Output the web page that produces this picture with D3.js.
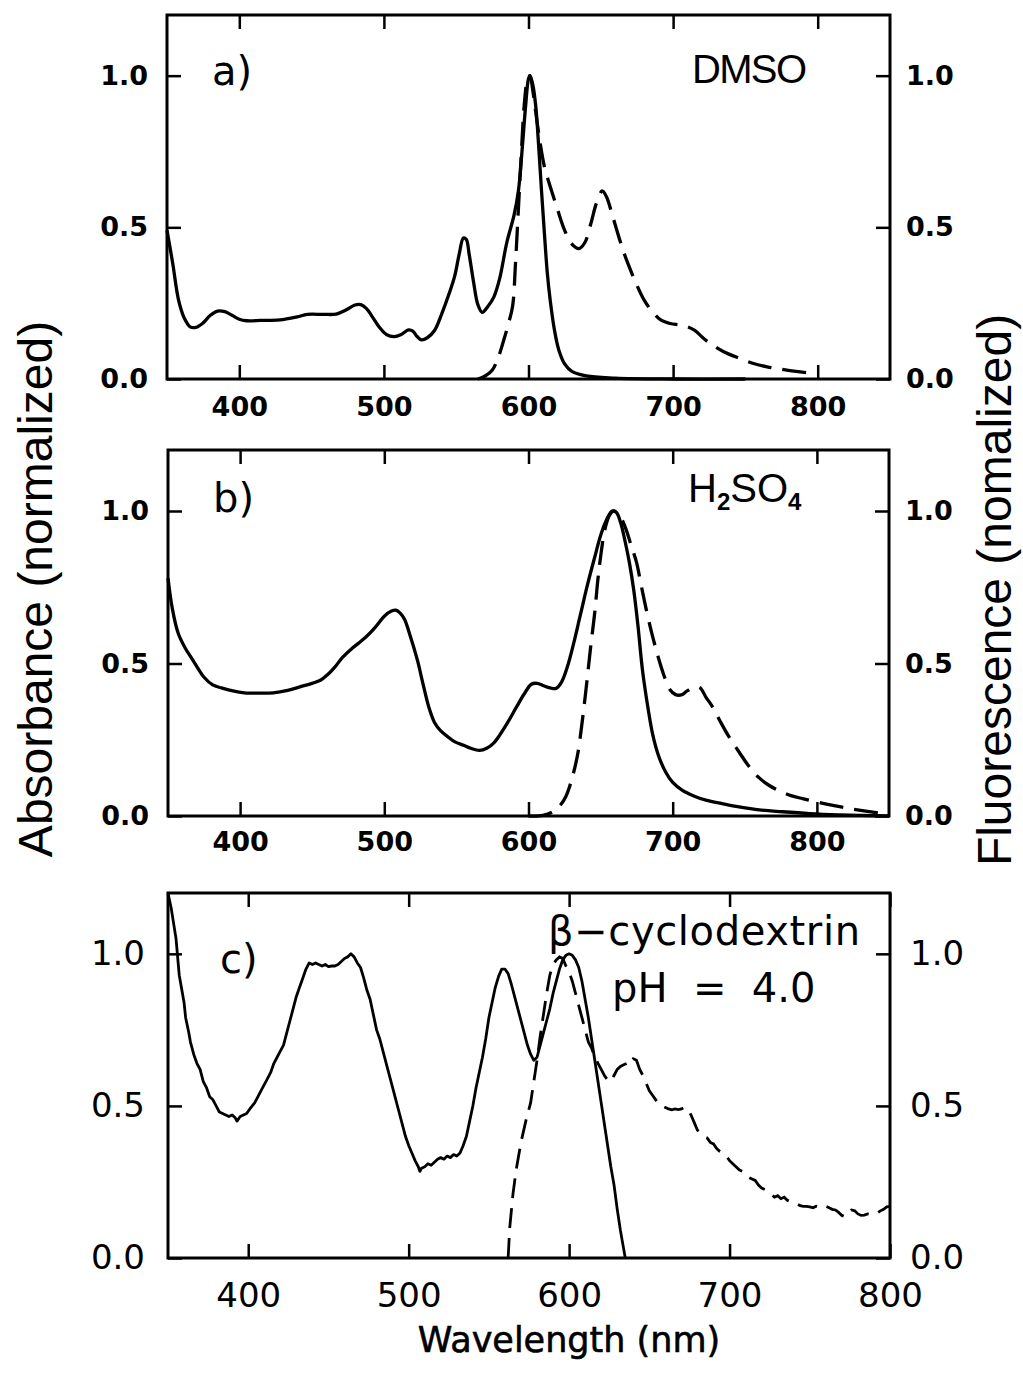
<!DOCTYPE html>
<html>
<head>
<meta charset="utf-8">
<script src="https://cdn.jsdelivr.net/npm/d3@7"></script>
<style>body{margin:0;background:#fff}</style>
</head>
<body>
<div id="chart"></div>
<script>
var w = 1023;
var h = 1375;

// a) DMSO
var absA = [[350,0.49],[354,0.38],[358,0.26],[362,0.2],[366,0.172],[370,0.17],[375,0.185],[380,0.21],[385,0.224],[390,0.222],[395,0.21],[400,0.197],[405,0.192],[415,0.193],[428,0.195],[440,0.205],[447,0.213],[458,0.213],[467,0.214],[474,0.228],[480,0.244],[484,0.245],[488,0.232],[492,0.205],[497,0.17],[502,0.146],[507,0.14],[512,0.147],[517,0.162],[520,0.158],[523,0.14],[526,0.129],[530,0.136],[535,0.16],[540,0.215],[545,0.28],[549,0.34],[552,0.41],[555,0.465],[557,0.46],[559,0.41],[562,0.32],[565,0.245],[568,0.22],[572,0.24],[576,0.27],[580,0.33],[585,0.45],[590,0.54],[593,0.62],[596,0.78],[598,0.9],[600,0.99],[601,1.0],[603,0.97],[605,0.9],[607,0.77],[609,0.62],[611,0.48],[613,0.35],[615,0.26],[618,0.16],[621,0.095],[625,0.05],[630,0.025],[640,0.01],[660,0.003],[700,0],[750,0]];
var fluA = [[565,0],[570,0.01],[575,0.03],[579,0.07],[583,0.13],[586,0.18],[589,0.24],[591,0.38],[593,0.56],[595,0.74],[597,0.9],[599,0.98],[601,1.0],[603,0.95],[605,0.88],[608,0.78],[611,0.7],[615,0.635],[620,0.56],[625,0.49],[630,0.445],[635,0.43],[639,0.45],[643,0.51],[647,0.58],[651,0.62],[654,0.6],[658,0.54],[663,0.46],[668,0.39],[674,0.32],[680,0.26],[686,0.22],[692,0.193],[698,0.183],[705,0.178],[710,0.172],[715,0.16],[722,0.13],[728,0.11],[735,0.09],[746,0.068],[755,0.052],[765,0.04],[775,0.032],[785,0.025],[798,0.018]];

// b) H2SO4
var absB = [[350,0.78],[353,0.68],[357,0.6],[362,0.55],[366,0.52],[370,0.49],[375,0.455],[381,0.43],[387,0.42],[395,0.41],[403,0.404],[413,0.403],[423,0.404],[433,0.412],[442,0.424],[450,0.435],[456,0.446],[461,0.465],[466,0.49],[471,0.52],[477,0.547],[483,0.57],[488,0.59],[494,0.62],[500,0.655],[505,0.672],[508,0.675],[511,0.665],[514,0.645],[518,0.59],[523,0.51],[527,0.43],[531,0.355],[535,0.305],[539,0.28],[544,0.26],[549,0.243],[555,0.232],[560,0.222],[566,0.215],[571,0.222],[576,0.24],[580,0.265],[586,0.31],[592,0.36],[597,0.4],[602,0.432],[606,0.435],[610,0.428],[615,0.42],[619,0.418],[623,0.44],[627,0.49],[631,0.56],[636,0.66],[641,0.76],[646,0.85],[650,0.92],[654,0.97],[658,1.0],[661,0.995],[664,0.96],[667,0.9],[670,0.83],[673,0.74],[676,0.62],[679,0.48],[683,0.35],[686,0.27],[690,0.2],[695,0.145],[700,0.11],[707,0.083],[715,0.065],[723,0.052],[735,0.04],[746,0.03],[760,0.02],[776,0.014],[795,0.008],[815,0.004],[850,0]];
var fluB = [[600,0],[610,0.002],[617,0.014],[622,0.035],[626,0.065],[630,0.12],[634,0.2],[637,0.3],[640,0.42],[643,0.55],[646,0.67],[648,0.77],[650,0.85],[653,0.94],[656,0.985],[659,1.0],[662,0.99],[665,0.97],[668,0.935],[671,0.89],[675,0.83],[678,0.76],[682,0.67],[686,0.59],[690,0.52],[694,0.46],[698,0.415],[702,0.398],[706,0.397],[710,0.41],[715,0.423],[719,0.42],[723,0.39],[728,0.355],[733,0.31],[739,0.26],[746,0.21],[753,0.162],[760,0.125],[767,0.1],[775,0.08],[782,0.067],[790,0.057],[800,0.046],[812,0.034],[823,0.024],[835,0.015],[848,0.006],[850,0.004]];

// c) beta-cyclodextrin, pH 4.0
var absC = [[350,1.2],[352,1.15],[355,1.05],[357,0.93],[358,0.9],[360,0.84],[361,0.79],[363,0.74],[364,0.71],[366,0.67],[368,0.64],[370,0.62],[372,0.58],[374,0.56],[376,0.53],[378,0.52],[380,0.5],[382,0.48],[384,0.475],[386,0.47],[388,0.465],[390,0.47],[392,0.46],[393,0.45],[395,0.465],[397,0.47],[399,0.475],[401,0.49],[404,0.51],[406,0.53],[408,0.55],[410,0.57],[412,0.59],[414,0.61],[416,0.64],[418,0.66],[420,0.68],[422,0.7],[424,0.74],[426,0.78],[428,0.82],[430,0.86],[432,0.89],[434,0.92],[436,0.95],[438,0.97],[440,0.965],[442,0.97],[444,0.965],[446,0.96],[448,0.965],[450,0.958],[452,0.96],[454,0.96],[456,0.965],[458,0.975],[460,0.985],[462,0.99],[464,1.0],[466,0.99],[468,0.97],[470,0.955],[472,0.92],[474,0.88],[476,0.85],[478,0.8],[480,0.75],[482,0.72],[484,0.68],[486,0.64],[488,0.6],[490,0.56],[492,0.52],[494,0.48],[496,0.44],[498,0.4],[500,0.37],[502,0.345],[504,0.32],[506,0.3],[507,0.285],[508,0.295],[510,0.3],[512,0.31],[514,0.305],[516,0.315],[518,0.325],[520,0.33],[522,0.325],[524,0.335],[526,0.33],[528,0.34],[530,0.335],[532,0.345],[534,0.37],[536,0.4],[538,0.45],[540,0.5],[542,0.56],[544,0.61],[546,0.66],[548,0.72],[550,0.79],[552,0.84],[554,0.89],[556,0.925],[558,0.95],[560,0.95],[562,0.935],[564,0.9],[566,0.86],[568,0.82],[570,0.78],[572,0.74],[574,0.7],[576,0.67],[578,0.65],[580,0.66],[582,0.7],[584,0.74],[586,0.78],[588,0.82],[590,0.87],[592,0.91],[594,0.95],[596,0.98],[598,0.995],[600,1.0],[602,0.995],[604,0.98],[606,0.955],[608,0.91],[610,0.85],[612,0.79],[614,0.72],[616,0.65],[618,0.58],[620,0.51],[622,0.44],[624,0.37],[626,0.3],[628,0.24],[630,0.16],[632,0.09],[634,0.03],[635,0]];
var fluC = [[562,0],[563,0.1],[565,0.21],[567,0.29],[570,0.38],[573,0.45],[576,0.51],[578,0.58],[580,0.65],[582,0.73],[584,0.8],[586,0.87],[588,0.93],[590,0.965],[592,0.98],[594,0.99],[596,0.985],[598,0.96],[600,0.94],[602,0.91],[604,0.87],[606,0.83],[608,0.79],[610,0.75],[612,0.71],[614,0.69],[616,0.66],[618,0.64],[620,0.62],[622,0.6],[624,0.585],[626,0.58],[628,0.6],[630,0.62],[632,0.63],[634,0.635],[636,0.64],[638,0.635],[640,0.655],[642,0.65],[644,0.62],[646,0.6],[648,0.575],[650,0.55],[652,0.535],[654,0.52],[656,0.505],[658,0.5],[660,0.495],[662,0.49],[664,0.487],[666,0.49],[668,0.488],[670,0.49],[672,0.495],[674,0.49],[676,0.47],[678,0.445],[680,0.42],[682,0.41],[684,0.4],[686,0.395],[688,0.38],[690,0.375],[692,0.36],[694,0.35],[696,0.345],[698,0.335],[700,0.32],[702,0.31],[704,0.3],[706,0.29],[708,0.285],[710,0.27],[712,0.265],[714,0.26],[716,0.255],[718,0.24],[720,0.23],[722,0.225],[724,0.215],[726,0.21],[728,0.2],[730,0.205],[732,0.195],[734,0.2],[736,0.19],[738,0.185],[740,0.18],[742,0.178],[744,0.172],[746,0.17],[748,0.17],[750,0.168],[752,0.165],[754,0.17],[756,0.168],[758,0.165],[760,0.17],[762,0.165],[764,0.16],[766,0.158],[768,0.15],[770,0.14],[772,0.136],[774,0.15],[776,0.158],[778,0.155],[780,0.145],[782,0.14],[784,0.141],[786,0.145],[788,0.142],[790,0.145],[792,0.148],[794,0.155],[796,0.16],[798,0.168],[800,0.17]];

var xTicks = [400,500,600,700,800];
var yTicks = [0,0.5,1.0];

var svg = d3.select("#chart").append("svg").attr("width", w).attr("height", h);

function drawPanel(p) {
	var x = d3.scaleLinear().domain(p.xdom).range([p.left, p.right]);
	var y = d3.scaleLinear().domain([0, 1.2]).range([p.bottom, p.top]);
	var g = svg.append("g");

	var bx = g.append("g").attr("transform", "translate(0," + p.bottom + ")")
		.call(d3.axisBottom(x).tickValues(xTicks).tickSizeInner(-14).tickSizeOuter(0).tickPadding(p.xpad).tickFormat(d3.format("d")));
	g.append("g").attr("transform", "translate(0," + p.top + ")")
		.call(d3.axisTop(x).tickValues(xTicks).tickSizeInner(-14).tickSizeOuter(0).tickFormat(""));
	var ly = g.append("g").attr("transform", "translate(" + p.left + ",0)")
		.call(d3.axisLeft(y).tickValues(yTicks).tickSizeInner(-14).tickSizeOuter(0).tickPadding(p.lpad).tickFormat(d3.format(".1f")));
	var ry = g.append("g").attr("transform", "translate(" + p.right + ",0)")
		.call(d3.axisRight(y).tickValues(yTicks).tickSizeInner(-14).tickSizeOuter(0).tickPadding(p.rpad).tickFormat(d3.format(".1f")));

	g.selectAll(".domain").remove();
	g.selectAll(".tick line").attr("stroke", "#000").attr("stroke-width", 2.5);
	[bx, ly, ry].forEach(function(a) {
		a.attr("font-family", "DejaVu Sans").attr("font-size", p.fs).attr("font-weight", p.fw);
		a.selectAll("text").attr("fill", "#000");
	});

	g.append("rect")
		.attr("x", p.left).attr("y", p.top)
		.attr("width", p.right - p.left).attr("height", p.bottom - p.top)
		.attr("fill", "none").attr("stroke", "#000").attr("stroke-width", 3);

	var line = d3.line().x(function(d) { return x(d[0]); }).y(function(d) { return y(d[1]); }).curve(p.curve);
	g.append("path").datum(p.abs).attr("d", line)
		.attr("fill", "none").attr("stroke", "#000").attr("stroke-width", p.sw).attr("stroke-linejoin", "round");
	g.append("path").datum(p.flu).attr("d", line)
		.attr("fill", "none").attr("stroke", "#000").attr("stroke-width", p.sw).attr("stroke-dasharray", p.dash);
	return g;
}

drawPanel({left:167, right:890, top:15, bottom:379, xdom:[350,850], abs:absA, flu:fluA, xpad:18, lpad:19, rpad:16, fs:27, fw:"bold", sw:3.3, dash:"24,11", curve:d3.curveCatmullRom});
drawPanel({left:168, right:889, top:450, bottom:816, xdom:[350,850], abs:absB, flu:fluB, xpad:16, lpad:19, rpad:16, fs:27, fw:"bold", sw:3.3, dash:"24,11", curve:d3.curveCatmullRom});
drawPanel({left:168, right:890, top:893, bottom:1258, xdom:[350,800], abs:absC, flu:fluC, xpad:25, lpad:23, rpad:20, fs:34, fw:"normal", sw:2.8, dash:"20,10", curve:d3.curveLinear});

function disptext(tex, x, y, size, fam) {
	return svg.append("text")
		.text(tex)
		.attr("x", x)
		.attr("y", y)
		.attr("font-size", size)
		.attr("fill", "#000")
		.attr("font-family", fam);
}

disptext("a)", 212, 85, 40, "DejaVu Sans");
disptext("b)", 213, 512, 40, "DejaVu Sans");
disptext("c)", 220, 973, 40, "DejaVu Sans");
disptext("DMSO", 692, 83, 40, "Liberation Sans").attr("textLength", 115);

var hs = disptext("", 688, 502, 40, "Liberation Sans");
hs.append("tspan").text("H");
hs.append("tspan").text("2").attr("font-size", 24).attr("font-weight", "bold").attr("dy", 8);
hs.append("tspan").text("SO").attr("dy", -8);
hs.append("tspan").text("4").attr("font-size", 24).attr("font-weight", "bold").attr("dy", 8);

disptext("\u03b2\u2212cyclodextrin", 548, 945, 40, "DejaVu Sans").attr("textLength", 312);
disptext("pH  =  4.0", 612, 1002, 40, "DejaVu Sans").style("white-space", "pre");

disptext("Wavelength (nm)", 569, 1352, 35, "DejaVu Sans")
	.attr("text-anchor", "middle").attr("stroke", "#000").attr("stroke-width", 0.6);

disptext("Absorbance (normalized)", 0, 0, 48, "Liberation Sans")
	.attr("text-anchor", "middle")
	.attr("transform", "translate(52,589) rotate(-90)");
disptext("Fluorescence (nomalized)", 0, 0, 48, "Liberation Sans")
	.attr("text-anchor", "middle")
	.attr("transform", "translate(1011,590) rotate(-90)");
</script>
</body>
</html>
